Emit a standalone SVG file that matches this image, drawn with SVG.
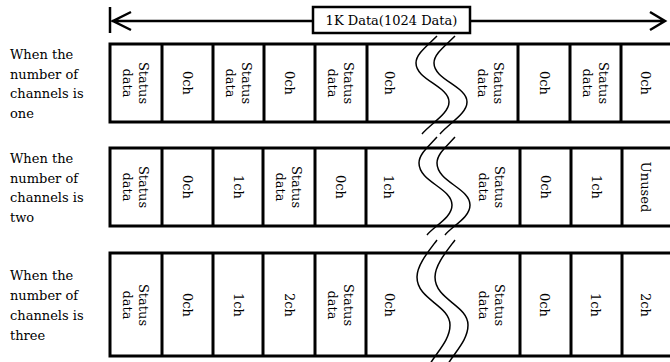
<svg xmlns="http://www.w3.org/2000/svg" width="670" height="362" viewBox="0 0 670 362">
<style>
text{font-family:"DejaVu Serif","Liberation Serif",serif;font-size:13px;fill:#000}
.v,.v tspan{text-anchor:middle;dominant-baseline:central}
.lbl,.lbl tspan{dominant-baseline:central}
.frame{fill:none;stroke:#000;stroke-width:3}
.brk{fill:none;stroke:#000;stroke-width:1.5}
.arr{fill:none;stroke:#000;stroke-width:2.5}
</style>
<rect width="670" height="362" fill="#fff"/>

<g id="connectors">
<path class="arr" d="M110,7V33M112,21H665M131,12L113,21L131,30M650,12L665,21L650,30"/>
</g>

<g id="total-label">
<rect x="313" y="7" width="157" height="26" fill="#fff" stroke="#000" stroke-width="2.5"/>
<text class="v" x="391.5" y="20.5">1K Data(1024 Data)</text>
</g>

<g id="row-one">
<text class="lbl" x="10"><tspan x="10" y="54">When the</tspan><tspan x="10" y="73.5">number of</tspan><tspan x="10" y="93">channels is</tspan><tspan x="10" y="112.5">one</tspan></text>
<path class="frame" d="M672,44H110V122H672M162,44V122M213,44V122M264,44V122M315,44V122M367,44V122M518,44V122M570,44V122M621,44V122"/>
<text class="v" transform="translate(136,83) rotate(90)"><tspan x="0" y="-8">Status</tspan><tspan x="0" y="8">data</tspan></text>
<text class="v" transform="translate(187.5,83) rotate(90)">0ch</text>
<text class="v" transform="translate(238.5,83) rotate(90)"><tspan x="0" y="-8">Status</tspan><tspan x="0" y="8">data</tspan></text>
<text class="v" transform="translate(289.5,83) rotate(90)">0ch</text>
<text class="v" transform="translate(341,83) rotate(90)"><tspan x="0" y="-8">Status</tspan><tspan x="0" y="8">data</tspan></text>
<text class="v" transform="translate(389,83) rotate(90)">0ch</text>
<text class="v" transform="translate(491,83) rotate(90)"><tspan x="0" y="-8">Status</tspan><tspan x="0" y="8">data</tspan></text>
<text class="v" transform="translate(544,83) rotate(90)">0ch</text>
<text class="v" transform="translate(595.5,83) rotate(90)"><tspan x="0" y="-8">Status</tspan><tspan x="0" y="8">data</tspan></text>
<text class="v" transform="translate(645,83) rotate(90)">0ch</text>
</g>

<g id="row-two">
<text class="lbl" x="10"><tspan x="10" y="158">When the</tspan><tspan x="10" y="177.5">number of</tspan><tspan x="10" y="197">channels is</tspan><tspan x="10" y="216.5">two</tspan></text>
<path class="frame" d="M672,148H110V226H672M162,148V226M213,148V226M263,148V226M315,148V226M366,148V226M520,148V226M571,148V226M622,148V226"/>
<text class="v" transform="translate(136,187) rotate(90)"><tspan x="0" y="-8">Status</tspan><tspan x="0" y="8">data</tspan></text>
<text class="v" transform="translate(187.5,187) rotate(90)">0ch</text>
<text class="v" transform="translate(238,187) rotate(90)">1ch</text>
<text class="v" transform="translate(289,187) rotate(90)"><tspan x="0" y="-8">Status</tspan><tspan x="0" y="8">data</tspan></text>
<text class="v" transform="translate(340.5,187) rotate(90)">0ch</text>
<text class="v" transform="translate(388,187) rotate(90)">1ch</text>
<text class="v" transform="translate(492,187) rotate(90)"><tspan x="0" y="-8">Status</tspan><tspan x="0" y="8">data</tspan></text>
<text class="v" transform="translate(545,187) rotate(90)">0ch</text>
<text class="v" transform="translate(596,187) rotate(90)">1ch</text>
<text class="v" transform="translate(645,187) rotate(90)">Unused</text>
</g>

<g id="row-three">
<text class="lbl" x="10"><tspan x="10" y="275">When the</tspan><tspan x="10" y="295">number of</tspan><tspan x="10" y="315">channels is</tspan><tspan x="10" y="335">three</tspan></text>
<path class="frame" d="M672,253H110V356H672M162,253V356M213,253V356M263,253V356M315,253V356M366,253V356M520,253V356M571,253V356M622,253V356"/>
<text class="v" transform="translate(136,305) rotate(90)"><tspan x="0" y="-8">Status</tspan><tspan x="0" y="8">data</tspan></text>
<text class="v" transform="translate(187.5,305) rotate(90)">0ch</text>
<text class="v" transform="translate(238,305) rotate(90)">1ch</text>
<text class="v" transform="translate(289,305) rotate(90)">2ch</text>
<text class="v" transform="translate(340.5,305) rotate(90)"><tspan x="0" y="-8">Status</tspan><tspan x="0" y="8">data</tspan></text>
<text class="v" transform="translate(389,305) rotate(90)">0ch</text>
<text class="v" transform="translate(492,305) rotate(90)"><tspan x="0" y="-8">Status</tspan><tspan x="0" y="8">data</tspan></text>
<text class="v" transform="translate(544,305) rotate(90)">0ch</text>
<text class="v" transform="translate(595,305) rotate(90)">1ch</text>
<text class="v" transform="translate(645,305) rotate(90)">2ch</text>
</g>

<g id="break-mark">
<path id="b1" class="brk" d="M437,36C427,46 416,54 416,63C416,80 449,86 449,102C449,114 430,124 422,134"/>
<path class="brk" d="M455,36C445,46 434,54 434,63C434,80 467,86 467,102C467,114 448,124 440,134"/>
<path class="brk" d="M437,137C428,147 419,154 419,163C419,182 452,188 452,205C452,218 434,226 427,235"/>
<path class="brk" d="M455,137C446,147 437,154 437,163C437,182 470,188 470,205C470,218 452,226 445,235"/>
<path class="brk" d="M437,240C428,252 417,265 417,277C417,300 450,305 450,325C450,340 437,352 430,364"/>
<path class="brk" d="M455,240C446,252 435,265 435,277C435,300 468,305 468,325C468,340 455,352 448,364"/>
</g>
</svg>
